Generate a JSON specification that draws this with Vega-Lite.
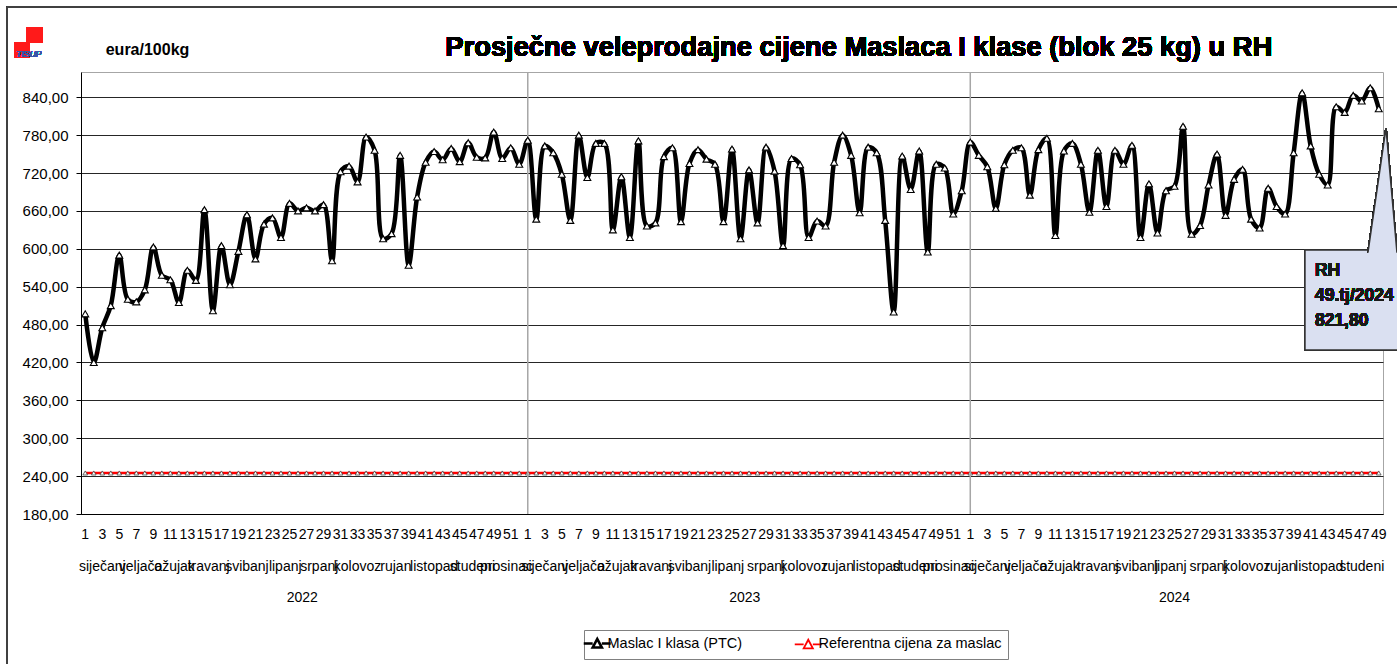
{
  "$schema": "https://vega.github.io/schema/vega-lite/v6.json",
  "width": 1302,
  "height": 442,
  "autosize": {"type": "none"},
  "padding": {"left": 81, "top": 72, "right": 14, "bottom": 150},
  "background": "white",
  "config": {
    "font": "Liberation Sans",
    "view": {"stroke": "#A6A6A6", "strokeWidth": 1},
    "axisY": {"labelOverlap": false}
  },
  "datasets": {
    "cijene": [
      {"indeks":1,"godina":2022,"tjedan":1,"mjesec":"siječanj","maslac":497,"referentna":245},
      {"indeks":2,"godina":2022,"tjedan":2,"mjesec":"siječanj","maslac":420,"referentna":245},
      {"indeks":3,"godina":2022,"tjedan":3,"mjesec":"siječanj","maslac":475,"referentna":245},
      {"indeks":4,"godina":2022,"tjedan":4,"mjesec":"siječanj","maslac":510,"referentna":245},
      {"indeks":5,"godina":2022,"tjedan":5,"mjesec":"siječanj","maslac":590,"referentna":245},
      {"indeks":6,"godina":2022,"tjedan":6,"mjesec":"veljača","maslac":520,"referentna":245},
      {"indeks":7,"godina":2022,"tjedan":7,"mjesec":"veljača","maslac":516,"referentna":245},
      {"indeks":8,"godina":2022,"tjedan":8,"mjesec":"veljača","maslac":535,"referentna":245},
      {"indeks":9,"godina":2022,"tjedan":9,"mjesec":"veljača","maslac":603,"referentna":245},
      {"indeks":10,"godina":2022,"tjedan":10,"mjesec":"ožujak","maslac":558,"referentna":245},
      {"indeks":11,"godina":2022,"tjedan":11,"mjesec":"ožujak","maslac":551,"referentna":245},
      {"indeks":12,"godina":2022,"tjedan":12,"mjesec":"ožujak","maslac":515,"referentna":245},
      {"indeks":13,"godina":2022,"tjedan":13,"mjesec":"ožujak","maslac":566,"referentna":245},
      {"indeks":14,"godina":2022,"tjedan":14,"mjesec":"travanj","maslac":550,"referentna":245},
      {"indeks":15,"godina":2022,"tjedan":15,"mjesec":"travanj","maslac":662,"referentna":245},
      {"indeks":16,"godina":2022,"tjedan":16,"mjesec":"travanj","maslac":502,"referentna":245},
      {"indeks":17,"godina":2022,"tjedan":17,"mjesec":"travanj","maslac":605,"referentna":245},
      {"indeks":18,"godina":2022,"tjedan":18,"mjesec":"svibanj","maslac":543,"referentna":245},
      {"indeks":19,"godina":2022,"tjedan":19,"mjesec":"svibanj","maslac":596,"referentna":245},
      {"indeks":20,"godina":2022,"tjedan":20,"mjesec":"svibanj","maslac":654,"referentna":245},
      {"indeks":21,"godina":2022,"tjedan":21,"mjesec":"svibanj","maslac":584,"referentna":245},
      {"indeks":22,"godina":2022,"tjedan":22,"mjesec":"svibanj","maslac":639,"referentna":245},
      {"indeks":23,"godina":2022,"tjedan":23,"mjesec":"lipanj","maslac":649,"referentna":245},
      {"indeks":24,"godina":2022,"tjedan":24,"mjesec":"lipanj","maslac":618,"referentna":245},
      {"indeks":25,"godina":2022,"tjedan":25,"mjesec":"lipanj","maslac":672,"referentna":245},
      {"indeks":26,"godina":2022,"tjedan":26,"mjesec":"lipanj","maslac":660,"referentna":245},
      {"indeks":27,"godina":2022,"tjedan":27,"mjesec":"srpanj","maslac":665,"referentna":245},
      {"indeks":28,"godina":2022,"tjedan":28,"mjesec":"srpanj","maslac":660,"referentna":245},
      {"indeks":29,"godina":2022,"tjedan":29,"mjesec":"srpanj","maslac":670,"referentna":245},
      {"indeks":30,"godina":2022,"tjedan":30,"mjesec":"srpanj","maslac":581,"referentna":245},
      {"indeks":31,"godina":2022,"tjedan":31,"mjesec":"kolovoz","maslac":722,"referentna":245},
      {"indeks":32,"godina":2022,"tjedan":32,"mjesec":"kolovoz","maslac":731,"referentna":245},
      {"indeks":33,"godina":2022,"tjedan":33,"mjesec":"kolovoz","maslac":706,"referentna":245},
      {"indeks":34,"godina":2022,"tjedan":34,"mjesec":"kolovoz","maslac":777,"referentna":245},
      {"indeks":35,"godina":2022,"tjedan":35,"mjesec":"kolovoz","maslac":756,"referentna":245},
      {"indeks":36,"godina":2022,"tjedan":36,"mjesec":"rujan","maslac":616,"referentna":245},
      {"indeks":37,"godina":2022,"tjedan":37,"mjesec":"rujan","maslac":624,"referentna":245},
      {"indeks":38,"godina":2022,"tjedan":38,"mjesec":"rujan","maslac":748,"referentna":245},
      {"indeks":39,"godina":2022,"tjedan":39,"mjesec":"rujan","maslac":574,"referentna":245},
      {"indeks":40,"godina":2022,"tjedan":40,"mjesec":"listopad","maslac":682,"referentna":245},
      {"indeks":41,"godina":2022,"tjedan":41,"mjesec":"listopad","maslac":737,"referentna":245},
      {"indeks":42,"godina":2022,"tjedan":42,"mjesec":"listopad","maslac":754,"referentna":245},
      {"indeks":43,"godina":2022,"tjedan":43,"mjesec":"listopad","maslac":741,"referentna":245},
      {"indeks":44,"godina":2022,"tjedan":44,"mjesec":"listopad","maslac":759,"referentna":245},
      {"indeks":45,"godina":2022,"tjedan":45,"mjesec":"studeni","maslac":738,"referentna":245},
      {"indeks":46,"godina":2022,"tjedan":46,"mjesec":"studeni","maslac":768,"referentna":245},
      {"indeks":47,"godina":2022,"tjedan":47,"mjesec":"studeni","maslac":745,"referentna":245},
      {"indeks":48,"godina":2022,"tjedan":48,"mjesec":"studeni","maslac":744,"referentna":245},
      {"indeks":49,"godina":2022,"tjedan":49,"mjesec":"prosinac","maslac":785,"referentna":245},
      {"indeks":50,"godina":2022,"tjedan":50,"mjesec":"prosinac","maslac":743,"referentna":245},
      {"indeks":51,"godina":2022,"tjedan":51,"mjesec":"prosinac","maslac":760,"referentna":245},
      {"indeks":52,"godina":2022,"tjedan":52,"mjesec":"prosinac","maslac":734,"referentna":245},
      {"indeks":53,"godina":2023,"tjedan":1,"mjesec":"siječanj","maslac":772,"referentna":245},
      {"indeks":54,"godina":2023,"tjedan":2,"mjesec":"siječanj","maslac":647,"referentna":245},
      {"indeks":55,"godina":2023,"tjedan":3,"mjesec":"siječanj","maslac":763,"referentna":245},
      {"indeks":56,"godina":2023,"tjedan":4,"mjesec":"siječanj","maslac":752,"referentna":245},
      {"indeks":57,"godina":2023,"tjedan":5,"mjesec":"siječanj","maslac":718,"referentna":245},
      {"indeks":58,"godina":2023,"tjedan":6,"mjesec":"veljača","maslac":645,"referentna":245},
      {"indeks":59,"godina":2023,"tjedan":7,"mjesec":"veljača","maslac":780,"referentna":245},
      {"indeks":60,"godina":2023,"tjedan":8,"mjesec":"veljača","maslac":713,"referentna":245},
      {"indeks":61,"godina":2023,"tjedan":9,"mjesec":"veljača","maslac":767,"referentna":245},
      {"indeks":62,"godina":2023,"tjedan":10,"mjesec":"ožujak","maslac":767,"referentna":245},
      {"indeks":63,"godina":2023,"tjedan":11,"mjesec":"ožujak","maslac":630,"referentna":245},
      {"indeks":64,"godina":2023,"tjedan":12,"mjesec":"ožujak","maslac":714,"referentna":245},
      {"indeks":65,"godina":2023,"tjedan":13,"mjesec":"ožujak","maslac":618,"referentna":245},
      {"indeks":66,"godina":2023,"tjedan":14,"mjesec":"travanj","maslac":771,"referentna":245},
      {"indeks":67,"godina":2023,"tjedan":15,"mjesec":"travanj","maslac":636,"referentna":245},
      {"indeks":68,"godina":2023,"tjedan":16,"mjesec":"travanj","maslac":641,"referentna":245},
      {"indeks":69,"godina":2023,"tjedan":17,"mjesec":"travanj","maslac":746,"referentna":245},
      {"indeks":70,"godina":2023,"tjedan":18,"mjesec":"svibanj","maslac":760,"referentna":245},
      {"indeks":71,"godina":2023,"tjedan":19,"mjesec":"svibanj","maslac":643,"referentna":245},
      {"indeks":72,"godina":2023,"tjedan":20,"mjesec":"svibanj","maslac":735,"referentna":245},
      {"indeks":73,"godina":2023,"tjedan":21,"mjesec":"svibanj","maslac":757,"referentna":245},
      {"indeks":74,"godina":2023,"tjedan":22,"mjesec":"svibanj","maslac":742,"referentna":245},
      {"indeks":75,"godina":2023,"tjedan":23,"mjesec":"lipanj","maslac":734,"referentna":245},
      {"indeks":76,"godina":2023,"tjedan":24,"mjesec":"lipanj","maslac":643,"referentna":245},
      {"indeks":77,"godina":2023,"tjedan":25,"mjesec":"lipanj","maslac":758,"referentna":245},
      {"indeks":78,"godina":2023,"tjedan":26,"mjesec":"lipanj","maslac":616,"referentna":245},
      {"indeks":79,"godina":2023,"tjedan":27,"mjesec":"srpanj","maslac":725,"referentna":245},
      {"indeks":80,"godina":2023,"tjedan":28,"mjesec":"srpanj","maslac":641,"referentna":245},
      {"indeks":81,"godina":2023,"tjedan":29,"mjesec":"srpanj","maslac":761,"referentna":245},
      {"indeks":82,"godina":2023,"tjedan":30,"mjesec":"srpanj","maslac":723,"referentna":245},
      {"indeks":83,"godina":2023,"tjedan":31,"mjesec":"srpanj","maslac":605,"referentna":245},
      {"indeks":84,"godina":2023,"tjedan":32,"mjesec":"kolovoz","maslac":743,"referentna":245},
      {"indeks":85,"godina":2023,"tjedan":33,"mjesec":"kolovoz","maslac":733,"referentna":245},
      {"indeks":86,"godina":2023,"tjedan":34,"mjesec":"kolovoz","maslac":618,"referentna":245},
      {"indeks":87,"godina":2023,"tjedan":35,"mjesec":"kolovoz","maslac":644,"referentna":245},
      {"indeks":88,"godina":2023,"tjedan":36,"mjesec":"rujan","maslac":636,"referentna":245},
      {"indeks":89,"godina":2023,"tjedan":37,"mjesec":"rujan","maslac":737,"referentna":245},
      {"indeks":90,"godina":2023,"tjedan":38,"mjesec":"rujan","maslac":780,"referentna":245},
      {"indeks":91,"godina":2023,"tjedan":39,"mjesec":"rujan","maslac":748,"referentna":245},
      {"indeks":92,"godina":2023,"tjedan":40,"mjesec":"listopad","maslac":657,"referentna":245},
      {"indeks":93,"godina":2023,"tjedan":41,"mjesec":"listopad","maslac":761,"referentna":245},
      {"indeks":94,"godina":2023,"tjedan":42,"mjesec":"listopad","maslac":752,"referentna":245},
      {"indeks":95,"godina":2023,"tjedan":43,"mjesec":"listopad","maslac":645,"referentna":245},
      {"indeks":96,"godina":2023,"tjedan":44,"mjesec":"listopad","maslac":500,"referentna":245},
      {"indeks":97,"godina":2023,"tjedan":45,"mjesec":"studeni","maslac":747,"referentna":245},
      {"indeks":98,"godina":2023,"tjedan":46,"mjesec":"studeni","maslac":694,"referentna":245},
      {"indeks":99,"godina":2023,"tjedan":47,"mjesec":"studeni","maslac":755,"referentna":245},
      {"indeks":100,"godina":2023,"tjedan":48,"mjesec":"studeni","maslac":595,"referentna":245},
      {"indeks":101,"godina":2023,"tjedan":49,"mjesec":"prosinac","maslac":734,"referentna":245},
      {"indeks":102,"godina":2023,"tjedan":50,"mjesec":"prosinac","maslac":728,"referentna":245},
      {"indeks":103,"godina":2023,"tjedan":51,"mjesec":"prosinac","maslac":655,"referentna":245},
      {"indeks":104,"godina":2023,"tjedan":52,"mjesec":"prosinac","maslac":692,"referentna":245},
      {"indeks":105,"godina":2024,"tjedan":1,"mjesec":"siječanj","maslac":769,"referentna":245},
      {"indeks":106,"godina":2024,"tjedan":2,"mjesec":"siječanj","maslac":748,"referentna":245},
      {"indeks":107,"godina":2024,"tjedan":3,"mjesec":"siječanj","maslac":730,"referentna":245},
      {"indeks":108,"godina":2024,"tjedan":4,"mjesec":"siječanj","maslac":664,"referentna":245},
      {"indeks":109,"godina":2024,"tjedan":5,"mjesec":"siječanj","maslac":733,"referentna":245},
      {"indeks":110,"godina":2024,"tjedan":6,"mjesec":"veljača","maslac":756,"referentna":245},
      {"indeks":111,"godina":2024,"tjedan":7,"mjesec":"veljača","maslac":760,"referentna":245},
      {"indeks":112,"godina":2024,"tjedan":8,"mjesec":"veljača","maslac":685,"referentna":245},
      {"indeks":113,"godina":2024,"tjedan":9,"mjesec":"veljača","maslac":757,"referentna":245},
      {"indeks":114,"godina":2024,"tjedan":10,"mjesec":"ožujak","maslac":775,"referentna":245},
      {"indeks":115,"godina":2024,"tjedan":11,"mjesec":"ožujak","maslac":621,"referentna":245},
      {"indeks":116,"godina":2024,"tjedan":12,"mjesec":"ožujak","maslac":755,"referentna":245},
      {"indeks":117,"godina":2024,"tjedan":13,"mjesec":"ožujak","maslac":767,"referentna":245},
      {"indeks":118,"godina":2024,"tjedan":14,"mjesec":"travanj","maslac":734,"referentna":245},
      {"indeks":119,"godina":2024,"tjedan":15,"mjesec":"travanj","maslac":658,"referentna":245},
      {"indeks":120,"godina":2024,"tjedan":16,"mjesec":"travanj","maslac":756,"referentna":245},
      {"indeks":121,"godina":2024,"tjedan":17,"mjesec":"travanj","maslac":667,"referentna":245},
      {"indeks":122,"godina":2024,"tjedan":18,"mjesec":"travanj","maslac":756,"referentna":245},
      {"indeks":123,"godina":2024,"tjedan":19,"mjesec":"svibanj","maslac":734,"referentna":245},
      {"indeks":124,"godina":2024,"tjedan":20,"mjesec":"svibanj","maslac":764,"referentna":245},
      {"indeks":125,"godina":2024,"tjedan":21,"mjesec":"svibanj","maslac":618,"referentna":245},
      {"indeks":126,"godina":2024,"tjedan":22,"mjesec":"svibanj","maslac":703,"referentna":245},
      {"indeks":127,"godina":2024,"tjedan":23,"mjesec":"lipanj","maslac":625,"referentna":245},
      {"indeks":128,"godina":2024,"tjedan":24,"mjesec":"lipanj","maslac":692,"referentna":245},
      {"indeks":129,"godina":2024,"tjedan":25,"mjesec":"lipanj","maslac":699,"referentna":245},
      {"indeks":130,"godina":2024,"tjedan":26,"mjesec":"lipanj","maslac":794,"referentna":245},
      {"indeks":131,"godina":2024,"tjedan":27,"mjesec":"srpanj","maslac":623,"referentna":245},
      {"indeks":132,"godina":2024,"tjedan":28,"mjesec":"srpanj","maslac":637,"referentna":245},
      {"indeks":133,"godina":2024,"tjedan":29,"mjesec":"srpanj","maslac":701,"referentna":245},
      {"indeks":134,"godina":2024,"tjedan":30,"mjesec":"srpanj","maslac":750,"referentna":245},
      {"indeks":135,"godina":2024,"tjedan":31,"mjesec":"srpanj","maslac":653,"referentna":245},
      {"indeks":136,"godina":2024,"tjedan":32,"mjesec":"kolovoz","maslac":710,"referentna":245},
      {"indeks":137,"godina":2024,"tjedan":33,"mjesec":"kolovoz","maslac":726,"referentna":245},
      {"indeks":138,"godina":2024,"tjedan":34,"mjesec":"kolovoz","maslac":647,"referentna":245},
      {"indeks":139,"godina":2024,"tjedan":35,"mjesec":"kolovoz","maslac":633,"referentna":245},
      {"indeks":140,"godina":2024,"tjedan":36,"mjesec":"rujan","maslac":696,"referentna":245},
      {"indeks":141,"godina":2024,"tjedan":37,"mjesec":"rujan","maslac":667,"referentna":245},
      {"indeks":142,"godina":2024,"tjedan":38,"mjesec":"rujan","maslac":655,"referentna":245},
      {"indeks":143,"godina":2024,"tjedan":39,"mjesec":"rujan","maslac":752,"referentna":245},
      {"indeks":144,"godina":2024,"tjedan":40,"mjesec":"listopad","maslac":847,"referentna":245},
      {"indeks":145,"godina":2024,"tjedan":41,"mjesec":"listopad","maslac":763,"referentna":245},
      {"indeks":146,"godina":2024,"tjedan":42,"mjesec":"listopad","maslac":718,"referentna":245},
      {"indeks":147,"godina":2024,"tjedan":43,"mjesec":"listopad","maslac":701,"referentna":245},
      {"indeks":148,"godina":2024,"tjedan":44,"mjesec":"listopad","maslac":825,"referentna":245},
      {"indeks":149,"godina":2024,"tjedan":45,"mjesec":"studeni","maslac":816,"referentna":245},
      {"indeks":150,"godina":2024,"tjedan":46,"mjesec":"studeni","maslac":843,"referentna":245},
      {"indeks":151,"godina":2024,"tjedan":47,"mjesec":"studeni","maslac":834,"referentna":245},
      {"indeks":152,"godina":2024,"tjedan":48,"mjesec":"studeni","maslac":855,"referentna":245},
      {"indeks":153,"godina":2024,"tjedan":49,"mjesec":"studeni","maslac":821.8,"referentna":245}
    ]
  },
  "data": {"name": "cijene"},
  "layer": [
    {
      "mark": {"type": "line", "strokeWidth": 2.5},
      "encoding": {
        "x": {
          "field": "indeks",
          "type": "quantitative",
          "scale": {"domain": [0.5, 153.5], "nice": false, "zero": false},
          "axis": {
            "title": null,
            "labels": false,
            "ticks": false,
            "grid": false,
            "domainColor": "black",
            "domainWidth": 1
          }
        },
        "y": {
          "field": "referentna",
          "type": "quantitative",
          "scale": {"domain": [180, 880], "nice": false, "zero": false},
          "axis": {
            "title": "eura/100kg",
            "titleAngle": 0,
            "titleX": 66,
            "titleY": -18,
            "titleAlign": "center",
            "titleBaseline": "alphabetic",
            "titleFontSize": 16,
            "titleFontWeight": "bold",
            "titleColor": "black",
            "values": [180,210,240,270,300,330,360,390,420,450,480,510,540,570,600,630,660,690,720,750,780,810,840,870],
            "labelExpr": "replace(format(datum.value, '.2f'), '.', ',')",
            "labelFontSize": 15,
            "labelColor": "black",
            "labelPadding": 8,
            "labelOverlap": false,
            "labelBound": false,
            "labelFlush": false,
            "tickSize": 5,
            "tickColor": "black",
            "domainColor": "black",
            "gridColor": "#262626",
            "gridWidth": 1
          }
        },
        "color": {
          "datum": "Referentna cijena za maslac",
          "type": "nominal",
          "scale": {"domain": ["Maslac I klasa (PTC)", "Referentna cijena za maslac"], "range": ["black", "#FF0000"]},
          "legend": {
            "title": null,
            "orient": "none",
            "legendX": 503,
            "legendY": 558,
            "direction": "horizontal",
            "padding": 6,
            "strokeColor": "#808080",
            "fillColor": "white",
            "symbolType": "M-1,0H-0.34M0.34,0H1M-0.34,0.3L0,-0.34L0.34,0.3Z",
            "symbolSize": 729,
            "symbolStrokeWidth": 3,
            "labelFontSize": 14.5,
            "labelColor": "black",
            "labelLimit": 0,
            "labelOffset": 3,
            "columnPadding": 48,
            "encode": {
              "symbols": {
                "update": {
                  "fill": {"value": "white"},
                  "strokeWidth": {"signal": "datum.index === 0 ? 2.6 : 1.8"}
                }
              }
            }
          }
        }
      }
    },
    {
      "mark": {"type": "point", "shape": "triangle-up", "filled": true, "fill": "white", "stroke": "#444444", "strokeWidth": 0.8, "size": 22, "opacity": 1},
      "encoding": {
        "x": {"field": "indeks", "type": "quantitative"},
        "y": {"field": "referentna", "type": "quantitative"}
      }
    },
    {
      "transform": [{"filter": "datum.tjedan == 1 && datum.godina > 2022"}],
      "mark": {"type": "rule", "color": "#A6A6A6", "strokeWidth": 1.5},
      "encoding": {
        "x": {"field": "indeks", "type": "quantitative"}
      }
    },
    {
      "mark": {"type": "line", "strokeWidth": 4.5, "interpolate": "catmull-rom"},
      "encoding": {
        "x": {"field": "indeks", "type": "quantitative"},
        "y": {"field": "maslac", "type": "quantitative"},
        "color": {"datum": "Maslac I klasa (PTC)", "type": "nominal"}
      }
    },
    {
      "mark": {"type": "point", "shape": "triangle-up", "filled": true, "fill": "white", "stroke": "black", "strokeWidth": 1.1, "size": 48, "opacity": 1},
      "encoding": {
        "x": {"field": "indeks", "type": "quantitative"},
        "y": {"field": "maslac", "type": "quantitative"}
      }
    },
    {
      "transform": [{"filter": "datum.indeks % 2 == 1"}],
      "mark": {"type": "text", "fontSize": 14, "color": "black", "baseline": "middle", "align": "center", "dy": 21},
      "encoding": {
        "x": {"field": "indeks", "type": "quantitative"},
        "y": {"datum": 180},
        "text": {"field": "tjedan"}
      }
    },
    {
      "transform": [{"aggregate": [{"op": "mean", "field": "indeks", "as": "indeks"}], "groupby": ["godina", "mjesec"]}],
      "mark": {"type": "text", "fontSize": 14, "color": "black", "baseline": "middle", "align": "center", "dy": 53},
      "encoding": {
        "x": {"field": "indeks", "type": "quantitative"},
        "y": {"datum": 180},
        "text": {"field": "mjesec"}
      }
    },
    {
      "transform": [{"aggregate": [{"op": "mean", "field": "indeks", "as": "indeks"}], "groupby": ["godina"]}],
      "mark": {"type": "text", "fontSize": 14, "color": "black", "baseline": "middle", "align": "center", "dy": 84},
      "encoding": {
        "x": {"field": "indeks", "type": "quantitative"},
        "y": {"datum": 180},
        "text": {"field": "godina"}
      }
    },
    {
      "mark": {"type": "text", "text": "Prosječne veleprodajne cijene Maslaca I klase (blok 25 kg) u RH", "fontSize": 27.3, "fontWeight": "bold", "color": "black", "align": "center", "baseline": "alphabetic"},
      "encoding": {
        "x": {"datum": 91.9},
        "y": {"datum": 905.3}
      }
    },
    {
      "mark": {"type": "rect", "fill": "#DAE0F1", "stroke": "#333333", "strokeWidth": 1.5, "clip": false},
      "encoding": {
        "x": {"datum": 144.33},
        "x2": {"datum": 160},
        "y": {"datum": 598.1},
        "y2": {"datum": 439.7}
      }
    },
    {
      "mark": {"type": "point", "shape": "M-0.295,1.04L0,-1L0.18,1.04", "filled": true, "fill": "#DAE0F1", "stroke": "#333333", "strokeWidth": 1.5, "size": 14884, "opacity": 1},
      "encoding": {
        "x": {"datum": 153.85},
        "y": {"datum": 694.7}
      }
    },
    {
      "mark": {"type": "text", "text": ["RH", "49.tj/2024", "821,80"], "fontSize": 17.5, "fontWeight": "bold", "color": "#1A1A1A", "align": "left", "baseline": "top", "lineHeight": 25},
      "encoding": {
        "x": {"datum": 145.5},
        "y": {"datum": 579.1}
      }
    },
    {
      "mark": {"type": "rect", "fill": "#FF1A1A"},
      "encoding": {
        "x": {"datum": -5.85},
        "x2": {"datum": -3.97},
        "y": {"datum": 951.3},
        "y2": {"datum": 925.9}
      }
    },
    {
      "mark": {"type": "rect", "fill": "#FF1A1A"},
      "encoding": {
        "x": {"datum": -7.26},
        "x2": {"datum": -5.49},
        "y": {"datum": 927.5},
        "y2": {"datum": 902.2}
      }
    },
    {
      "mark": {"type": "text", "text": "TISUP", "fontSize": 8.5, "fontStyle": "italic", "color": "#3A55A8", "align": "center", "baseline": "middle"},
      "encoding": {
        "x": {"datum": -5.61},
        "y": {"datum": 908.5}
      }
    },
    {
      "mark": {"type": "rect", "fill": "white", "fillOpacity": 0, "stroke": "#404040", "strokeWidth": 1},
      "encoding": {
        "x": {"datum": -8.2},
        "x2": {"datum": 170},
        "y": {"datum": 982.9},
        "y2": {"datum": -300}
      }
    }
  ]
}
